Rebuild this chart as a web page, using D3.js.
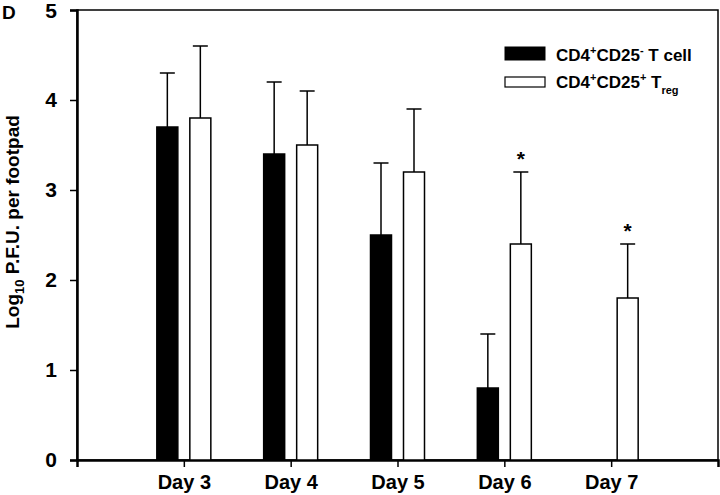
<!DOCTYPE html>
<html><head><meta charset="utf-8">
<script src="https://cdn.jsdelivr.net/npm/d3@7"></script>
<style>body{margin:0;background:#fff}svg{display:block}text{font-family:"Liberation Sans",Arial,sans-serif;font-weight:bold;fill:#000}</style>
</head><body>
<script>
const days = ["Day 3","Day 4","Day 5","Day 6","Day 7"];
const dayIndex = [1,2,3,4,5];
const tcellMean = [3.7,3.4,2.5,0.8,null];
const tcellErr  = [0.6,0.8,0.8,0.6,null];
const tregMean  = [3.8,3.5,3.2,2.4,1.8];
const tregErr   = [0.8,0.6,0.7,0.8,0.6];
const significant = [false,false,false,true,true];
const yTicks = [0,1,2,3,4,5];

const W=720,H=495;
const svg=d3.select("body").append("svg").attr("width",W).attr("height",H);
const L=77,R=718,T=10,B=460;
const x=d3.scaleLinear().domain([0,6]).range([L,R]);
const y=d3.scaleLinear().domain([0,5]).range([B,T]);
const bw=21, gap=12, cap=15;

// frame
svg.append("rect").attr("x",L).attr("y",T).attr("width",R-L).attr("height",B-T)
  .attr("fill","none").attr("stroke","#000").attr("stroke-width",1.5);

// y axis
const ya=svg.append("g").attr("transform",`translate(${L},0)`)
  .call(d3.axisLeft(y).tickValues(yTicks).tickFormat(d3.format("d")).tickSize(7).tickPadding(13));
ya.select(".domain").attr("stroke-width",2.5);
ya.selectAll(".tick line").attr("stroke-width",1.5);
ya.selectAll(".tick text").style("font-size","21px").style("font-weight","bold").style("font-family","Liberation Sans, Arial, sans-serif")
  .attr("dy",(d)=>d===5?"0.36em":"0.32em");

// x axis
const xa=svg.append("g").attr("transform",`translate(0,${B})`)
  .call(d3.axisBottom(x).tickValues(dayIndex).tickFormat((d,i)=>days[i]).tickSize(7).tickPadding(8));
xa.select(".domain").attr("stroke-width",2.5);
xa.selectAll(".tick line").attr("stroke-width",1.5);
xa.selectAll(".tick text").style("font-size","20px").style("font-weight","bold").style("font-family","Liberation Sans, Arial, sans-serif");

function drawSeries(means, errs, dx, fill){
  dayIndex.forEach((d,i)=>{
    if(means[i]==null) return;
    const cx=x(d)+dx;
    svg.append("line").attr("x1",cx).attr("x2",cx).attr("y1",y(means[i])).attr("y2",y(means[i]+errs[i]))
      .attr("stroke","#000").attr("stroke-width",1.5);
    svg.append("line").attr("x1",cx-cap/2).attr("x2",cx+cap/2).attr("y1",y(means[i]+errs[i])).attr("y2",y(means[i]+errs[i]))
      .attr("stroke","#000").attr("stroke-width",1.5);
    svg.append("rect").attr("x",cx-bw/2).attr("y",y(means[i])).attr("width",bw).attr("height",y(0)-y(means[i]))
      .attr("fill",fill).attr("stroke","#000").attr("stroke-width",1.5);
  });
}
drawSeries(tcellMean,tcellErr,-(gap/2+bw/2),"#000");
drawSeries(tregMean,tregErr,(gap/2+bw/2),"#fff");

// asterisks
dayIndex.forEach((d,i)=>{
  if(!significant[i]) return;
  svg.append("text").attr("x",x(d)+gap/2+bw/2).attr("y",y(tregMean[i]+tregErr[i])-6)
    .attr("text-anchor","middle").style("font-size","21px").text("*");
});

// legend
const lg=svg.append("g");
lg.append("rect").attr("x",505).attr("y",47).attr("width",40).attr("height",13).attr("fill","#000").attr("stroke","#000");
lg.append("rect").attr("x",505).attr("y",77).attr("width",40).attr("height",10).attr("fill","#fff").attr("stroke","#000").attr("stroke-width",1.2);
const t1=lg.append("text").attr("x",556).attr("y",61).style("font-size","17px");
t1.append("tspan").text("CD4");
t1.append("tspan").attr("dy",-7).style("font-size","11px").text("+");
t1.append("tspan").attr("dy",7).text("CD25");
t1.append("tspan").attr("dy",-7).style("font-size","11px").text("-");
t1.append("tspan").attr("dy",7).text(" T cell");
const t2=lg.append("text").attr("x",556).attr("y",88).style("font-size","17px");
t2.append("tspan").text("CD4");
t2.append("tspan").attr("dy",-7).style("font-size","11px").text("+");
t2.append("tspan").attr("dy",7).text("CD25");
t2.append("tspan").attr("dy",-7).style("font-size","11px").text("+");
t2.append("tspan").attr("dy",7).text(" T");
t2.append("tspan").attr("dy",6).style("font-size","11px").text("reg");

// y label
const yl=svg.append("text").attr("transform","translate(19,222) rotate(-90)").attr("text-anchor","middle").style("font-size","19px");
yl.append("tspan").text("Log");
yl.append("tspan").attr("dy",5).style("font-size","13px").text("10");
yl.append("tspan").attr("dy",-5).text(" P.F.U. per footpad");

// panel label
svg.append("text").attr("x",2).attr("y",19).style("font-size","19px").text("D");
</script>
</body></html>
